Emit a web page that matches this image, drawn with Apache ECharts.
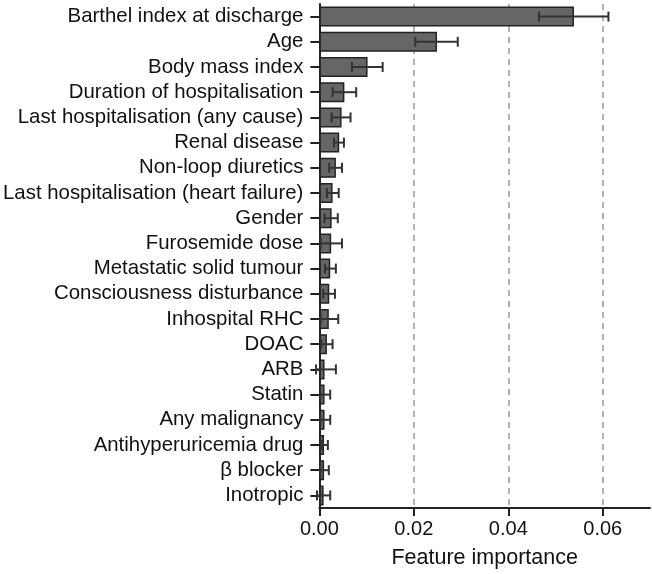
<!DOCTYPE html>
<html>
<head>
<meta charset="utf-8">
<script src="https://cdn.jsdelivr.net/npm/echarts@6/dist/echarts.min.js"></script>
<style>html,body{margin:0;padding:0;background:#fff;}#c{width:652px;height:574px;}</style>
</head>
<body>
<div id="c"></div>
<script>
const categories = ["Barthel index at discharge","Age","Body mass index","Duration of hospitalisation","Last hospitalisation (any cause)","Renal disease","Non-loop diuretics","Last hospitalisation (heart failure)","Gender","Furosemide dose","Metastatic solid tumour","Consciousness disturbance","Inhospital RHC","DOAC","ARB","Statin","Any malignancy","Antihyperuricemia drug","β blocker","Inotropic"];
const importance = [0.0539,0.0249,0.0102,0.0053,0.0047,0.0042,0.0035,0.0028,0.0026,0.0025,0.0023,0.0021,0.0020,0.0016,0.0011,0.0011,0.0011,0.0010,0.0010,0.0009];
const errLow = [0.0465,0.0203,0.0069,0.0028,0.0026,0.0031,0.0021,0.0016,0.0011,0.0003,0.0012,0.0008,0.0003,0.0004,-0.0007,0.0002,0.0002,0.0005,0.0002,-0.0005];
const errHigh = [0.0612,0.0293,0.0134,0.0078,0.0066,0.0052,0.0048,0.0041,0.0039,0.0048,0.0035,0.0033,0.0040,0.0028,0.0035,0.0023,0.0023,0.0018,0.0020,0.0023];
const xTicks = [0, 0.02, 0.04, 0.06];

const font = "'Liberation Sans', Arial, sans-serif";
const chart = echarts.init(document.getElementById('c'));
chart.setOption({
  animation: false,
  backgroundColor: '#fff',
  grid: { left: 318, right: 2, top: 4, bottom: 65 },
  xAxis: {
    type: 'value', min: 0, max: 0.07, interval: 0.02,
    name: 'Feature importance', nameLocation: 'middle', nameGap: 39,
    nameTextStyle: { fontFamily: font, fontSize: 21.5, color: '#111' },
    axisLine: { show: true, lineStyle: { color: '#222', width: 2 } },
    axisTick: { show: true, length: 8, lineStyle: { color: '#222', width: 2 } },
    axisLabel: {
      fontFamily: font, fontSize: 20, color: '#111', margin: 11,
      showMaxLabel: false,
      formatter: v => xTicks.some(t => Math.abs(t - v) < 1e-9) ? v.toFixed(2) : ''
    },
    splitLine: { show: true, lineStyle: { type: [6, 5], color: ['transparent', '#9a9a9a', '#9a9a9a', '#9a9a9a', 'transparent'], width: 1.5 } }
  },
  yAxis: {
    type: 'category', data: categories, inverse: true,
    axisLine: { show: true, lineStyle: { color: '#222', width: 2 } },
    axisTick: { show: true, alignWithLabel: true, interval: 0, length: 9, lineStyle: { color: '#222', width: 2 } },
    axisLabel: { fontFamily: font, fontSize: 20.4, color: '#111', margin: 16, interval: 0 }
  },
  series: [
    {
      type: 'bar', data: importance, barWidth: 20,
      itemStyle: { color: '#666666', borderColor: '#222', borderWidth: 1.5 }
    },
    {
      type: 'custom',
      data: categories.map((c, i) => [i, errLow[i], errHigh[i]]),
      encode: { y: 0, x: [1, 2] },
      z: 3,
      renderItem: function (params, api) {
        const yi = api.value(0);
        const p1 = api.coord([api.value(1), yi]);
        const p2 = api.coord([api.value(2), yi]);
        const h = 5;
        const st = { stroke: '#333', lineWidth: 2 };
        return {
          type: 'group',
          children: [
            { type: 'line', shape: { x1: p1[0], y1: p1[1], x2: p2[0], y2: p2[1] }, style: st },
            { type: 'line', shape: { x1: p1[0], y1: p1[1] - h, x2: p1[0], y2: p1[1] + h }, style: st },
            { type: 'line', shape: { x1: p2[0], y1: p2[1] - h, x2: p2[0], y2: p2[1] + h }, style: st }
          ]
        };
      }
    }
  ]
});
</script>
</body>
</html>
